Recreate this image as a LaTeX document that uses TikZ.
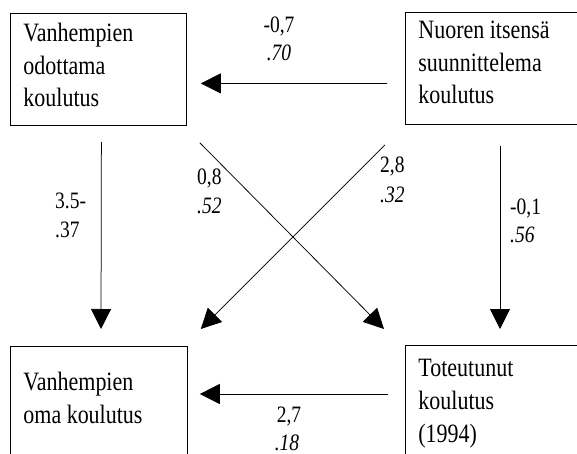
\documentclass[tikz,border=0pt]{standalone}
\usepackage{fontspec}
\setmainfont{Liberation Serif}[FakeStretch=0.83]
\newfontfamily\tnr{Liberation Serif}[FakeStretch=0.83]
\usetikzlibrary{arrows.meta,calc}
\newcommand{\bxtext}[3]{\parbox[c][#1pt][t]{#2pt}{\raggedright\tnr\fontsize{26.5}{32.8}\selectfont #3}}
\begin{document}
\begin{tikzpicture}[x=1pt,y=-1pt,
  every node/.style={font=\tnr},
  box/.style={draw, line width=0.8pt, anchor=north west, inner xsep=13pt},
  arr/.style={line width=0.75pt, -{Triangle[length=20pt,width=20pt]}},
  lab/.style={font=\tnr\fontsize{23.5}{28}\selectfont, inner sep=0pt, anchor=base},
  labl/.style={lab, anchor=base west}]
\useasboundingbox (0,0) rectangle (577,454);
\clip (0,0) rectangle (577,454);
% boxes
\node[box, inner ysep=9.6pt] (A) at (10,13) {\bxtext{92.8}{150}{Vanhempien\\odottama\\koulutus}};
\node[box, inner ysep=8.4pt] (B) at (405,12) {\bxtext{95.2}{180}{Nuoren itsensä\\suunnittelema\\koulutus}};
\node[box, inner ysep=25.9pt] (C) at (10,346) {\bxtext{90}{151}{Vanhempien\\oma koulutus}};
\node[box, inner ysep=14.2pt] (D) at (405,345) {\bxtext{120}{180}{Toteutunut\\koulutus\\(1994)}};
% connectors
\draw[arr] ($(B.west)+(-18,15)$) -- ($(A.east)+(14,14)$);
\draw[arr] ($(A.south)+(3,16)$) -- ($(C.north west)+(91,-17)$);
\draw[arr] ($(A.south east)+(13,17)$) -- ($(D.north west)+(-21,-16)$);
\draw[arr] ($(B.south west)+(-20,20)$) -- ($(C.north east)+(13,-17)$);
\draw[arr] ($(B.south west)+(95,21)$) -- ($(D.north west)+(95,-16)$);
\draw[arr] ($(D.north west)+(-17,49)$) -- ($(C.north east)+(12,48)$);
% labels
\node[lab] (l1a) at (279,33) {-0,7};
\node[lab] (l1b) at (279,61) {\itshape .70};
\node[labl] (l2a) at (55,208) {3.5-};
\node[labl] (l2b) at (55,237) {.37};
\node[labl] (l3a) at (197,185) {0,8};
\node[labl] (l3b) at (197,213) {\itshape .52};
\node[labl] (l4a) at (380,173) {2,8};
\node[labl] (l4b) at (380,203) {\itshape .32};
\node[labl] (l5a) at (510,214) {-0,1};
\node[labl] (l5b) at (510,242) {\itshape .56};
\node[lab] (l6a) at (289,422) {2,7};
\node[lab] (l6b) at (287,450) {\itshape .18};
\end{tikzpicture}
\end{document}
